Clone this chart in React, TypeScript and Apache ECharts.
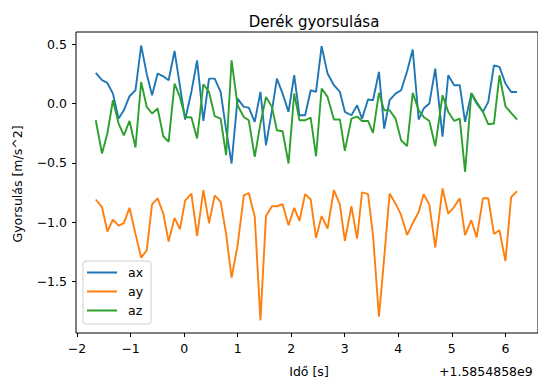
import React, { useEffect, useRef } from "react";
import * as echarts from "echarts";

const times = [
  -1.651, -1.534, -1.434, -1.33, -1.224, -1.126, -1.02, -0.909, -0.803, -0.699,
  -0.599, -0.495, -0.389, -0.29, -0.179, -0.079, 0.019, 0.136, 0.242, 0.359,
  0.465, 0.571, 0.682, 0.784, 0.886, 0.998, 1.115, 1.207, 1.319, 1.425,
  1.529, 1.64, 1.733, 1.839, 1.95, 2.056, 2.154, 2.26, 2.364, 2.464,
  2.568, 2.679, 2.798, 2.91, 3.002, 3.125, 3.231, 3.323, 3.435, 3.528,
  3.639, 3.737, 3.838, 3.949, 4.053, 4.164, 4.27, 4.381, 4.474, 4.58,
  4.691, 4.827, 4.933, 5.044, 5.148, 5.248, 5.365, 5.464, 5.582, 5.681,
  5.787, 5.89, 6.002, 6.108, 6.219,
];

const ax = [
  0.258, 0.197, 0.174, 0.084, -0.127, -0.057, 0.062, 0.112, 0.49, 0.25,
  0.07, 0.253, 0.23, 0.197, 0.444, 0.15, -0.135, 0.1, 0.365, -0.147,
  0.21, 0.21, 0.098, -0.22, -0.506, 0.042, -0.028, -0.034, -0.155, 0.098,
  -0.352, -0.06, 0.21, 0.084, -0.07, 0.239, -0.099, -0.099, 0.112, 0.098,
  0.484, 0.253, 0.155, 0.098, -0.07, -0.099, -0.014, -0.127, 0.034, 0.028,
  0.267, -0.211, 0.028, 0.084, 0.112, 0.27, 0.456, -0.135, -0.042, 0.0,
  0.295, -0.28, 0.239, 0.155, 0.155, -0.155, 0.084, 0.0, -0.07, 0.014,
  0.323, 0.309, 0.169, 0.098, 0.098,
];

const ay = [
  -0.81, -0.875, -1.08, -0.98, -1.03, -1.01, -0.88, -1.1, -1.3, -1.24,
  -0.85, -0.8, -0.93, -1.165, -0.965, -1.06, -0.82, -0.76, -1.12, -0.73,
  -1.01, -0.775, -0.83, -1.1, -1.47, -1.2, -0.775, -0.755, -0.955, -1.83,
  -0.95, -0.867, -0.867, -0.85, -1.027, -0.88, -0.99, -0.765, -0.81, -1.134,
  -0.95, -1.055, -0.73, -0.853, -1.16, -0.867, -1.14, -0.75, -0.765, -1.11,
  -1.8, -1.3, -0.76, -0.845, -0.94, -1.11, -1.01, -0.915, -0.765, -0.853,
  -1.215, -0.717, -0.93, -0.872, -0.8, -1.11, -0.985, -1.13, -0.8, -0.8,
  -1.1, -1.07, -1.33, -0.79, -0.74,
];

const az = [
  -0.141, -0.422, -0.253, 0.028, -0.169, -0.268, -0.147, -0.371, 0.182, -0.028,
  -0.084, -0.042, -0.276, -0.324, 0.169, 0.056, -0.113, -0.118, -0.295, 0.163,
  0.098, -0.107, -0.127, -0.436, 0.365, -0.014, -0.113, -0.141, -0.45, -0.169,
  0.056, -0.028, -0.225, -0.234, -0.506, 0.084, -0.141, -0.141, -0.118, -0.445,
  0.127, 0.056, -0.135, -0.135, -0.4, -0.127, -0.11, -0.147, -0.147, -0.248,
  0.09, -0.057, -0.057, -0.127, -0.31, -0.36, 0.09, -0.057, -0.113, -0.147,
  -0.36, 0.07, -0.07, -0.147, -0.127, -0.577, 0.09, 0.014, -0.07, -0.175,
  -0.169, 0.239, -0.023, -0.079, -0.135,
];

const xTicks = [-2, -1, 0, 1, 2, 3, 4, 5, 6];
const yTicks = [-1.5, -1.0, -0.5, 0.0, 0.5];

const FONT = "DejaVu Sans";
const minus = (s: string) => s.replace("-", "\u2212");

export default function App() {
  const ref = useRef<HTMLDivElement>(null);
  useEffect(() => {
    document.body.style.margin = "0";
    const chart = echarts.init(ref.current!, null, { renderer: "svg" });
    const mk = (name: string, ys: number[], color: string) => ({
      name,
      type: "line",
      data: times.map((t, i) => [t, ys[i]]),
      symbol: "none",
      lineStyle: { color, width: 1.9 },
      itemStyle: { color },
      clip: true,
    });
    chart.setOption({
      animation: false,
      backgroundColor: "#fff",
      textStyle: { fontFamily: FONT },
      title: {
        text: "Derék gyorsulása",
        left: 309,
        top: 9,
        textAlign: "center",
        textStyle: { fontFamily: FONT, fontSize: 15, fontWeight: "normal", color: "#000" },
      },
      grid: {
        left: 76,
        right: -3,
        top: 32,
        bottom: 45,
        show: true,
        borderColor: "#000",
        borderWidth: 1,
        backgroundColor: "transparent",
      },
      legend: {
        orient: "vertical",
        left: 83,
        top: 261,
        padding: [5, 8, 7, 4],
        icon: "rect",
        itemWidth: 30,
        itemHeight: 2,
        itemGap: 6,
        borderColor: "#d0d0d0",
        borderWidth: 1,
        borderRadius: 3,
        backgroundColor: "rgba(255,255,255,0.8)",
        textStyle: { fontFamily: FONT, fontSize: 12.5, color: "#000", padding: [0, 0, 0, 6] },
        data: ["ax", "ay", "az"],
      },
      xAxis: {
        type: "value",
        position: "bottom",
        min: -2.02,
        max: 6.61,
        axisLine: { show: false, onZero: false },
        splitLine: { show: false },
        axisTick: {
          show: true,
          length: 4,
          customValues: xTicks,
          lineStyle: { color: "#000", width: 1 },
        },
        axisLabel: {
          customValues: xTicks,
          margin: 9,
          fontFamily: FONT,
          fontSize: 12.5,
          color: "#000",
          formatter: (v: number) => minus(String(v)),
        },
      },
      yAxis: {
        type: "value",
        position: "left",
        min: -1.937,
        max: 0.604,
        axisLine: { show: false, onZero: false },
        splitLine: { show: false },
        axisTick: {
          show: true,
          length: 4,
          customValues: yTicks,
          lineStyle: { color: "#000", width: 1 },
        },
        axisLabel: {
          customValues: yTicks,
          margin: 9,
          fontFamily: FONT,
          fontSize: 12.5,
          color: "#000",
          formatter: (v: number) => minus(v.toFixed(1)),
        },
      },
      graphic: [
        {
          type: "text",
          x: 309,
          y: 371,
          style: {
            text: "Idő [s]",
            fontFamily: FONT,
            fontSize: 12.5,
            fill: "#000",
            align: "center",
            verticalAlign: "middle",
          },
        },
        {
          type: "text",
          x: 439,
          y: 371,
          style: {
            text: "+1.5854858e9",
            fontFamily: FONT,
            fontSize: 12.5,
            fill: "#000",
            align: "left",
            verticalAlign: "middle",
          },
        },
        {
          type: "text",
          x: 17,
          y: 184,
          rotation: Math.PI / 2,
          style: {
            text: "Gyorsulás [m/s^2]",
            fontFamily: FONT,
            fontSize: 12.5,
            fill: "#000",
            align: "center",
            verticalAlign: "middle",
          },
        },
      ],
      series: [mk("ax", ax, "#1f77b4"), mk("ay", ay, "#ff7f0e"), mk("az", az, "#2ca02c")],
    });
    return () => chart.dispose();
  }, []);
  return (
    <div
      ref={ref}
      style={{ position: "absolute", left: 0, top: 0, width: 538, height: 378 }}
    />
  );
}
